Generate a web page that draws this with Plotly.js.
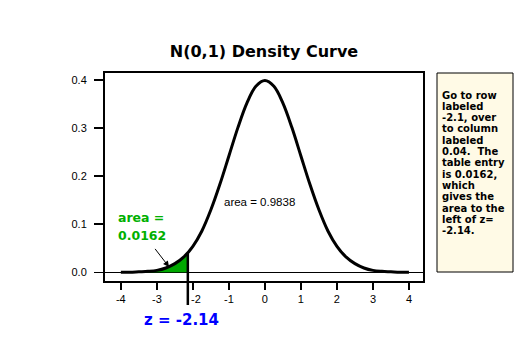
<!DOCTYPE html>
<html>
<head>
<meta charset="utf-8">
<script src="https://cdn.plot.ly/plotly-3.0.1.min.js"></script>
<style>html,body{margin:0;padding:0;background:#fff;}#chart{width:530px;height:354px;}</style>
</head>
<body>
<div id="chart"></div>
<script>
// Density curve
const xVals = [-4, -3.75, -3.5, -3.25, -3, -2.75, -2.5, -2.25, -2, -1.75, -1.5, -1.25, -1, -0.75, -0.5, -0.25, 0,
               0.25, 0.5, 0.75, 1, 1.25, 1.5, 1.75, 2, 2.25, 2.5, 2.75, 3, 3.25, 3.5, 3.75, 4];
const density = [0.000, 0.000, 0.001, 0.002, 0.004, 0.009, 0.018, 0.032, 0.054, 0.086, 0.130, 0.183, 0.242, 0.301, 0.352, 0.387, 0.399,
                 0.387, 0.352, 0.301, 0.242, 0.183, 0.130, 0.086, 0.054, 0.032, 0.018, 0.009, 0.004, 0.002, 0.001, 0.000, 0.000];
// Shaded left tail up to z
const shadeX = [-4, -3.75, -3.5, -3.25, -3, -2.75, -2.5, -2.25, -2.14];
const shadeY = [0.000, 0.000, 0.001, 0.002, 0.004, 0.009, 0.018, 0.032, 0.040];
const zValue = -2.14;
const zDensity = 0.040;
const leftArea = '0.0162';
const rightArea = '0.9838';
const xTickVals = [-4, -3, -2, -1, 0, 1, 2, 3, 4];
const xTickText = ['-4', '-3', '\u00a0\u00a0-2', '-1', '0', '1', '2', '3', '4'];
const yTickVals = [0, 0.1, 0.2, 0.3, 0.4];
const yTickText = ['0.0', '0.1', '0.2', '0.3', '0.4'];
const titleText = 'N(0,1) Density Curve';
const noteLines = ['Go to row', 'labeled', '-2.1, over', 'to column', 'labeled', '0.04.\u00a0 The', 'table entry',
                   'is 0.0162,', 'which', 'gives the', 'area to the', 'left of z=', '-2.14.'];

const W = 530, H = 354;
const M = {l: 105, r: 107, t: 73, b: 73};
const pw = W - M.l - M.r, ph = H - M.t - M.b;
const xRange = [-4.44, 4.39];
const yRange = [-0.0181, 0.4146];
const px = v => (v - M.l) / pw;          // pixel -> paper x
const py = v => (H - M.b - v) / ph;      // pixel -> paper y
const yPaper = v => (v - yRange[0]) / (yRange[1] - yRange[0]);

const bold = {family: 'DejaVu Sans', weight: 700};

const traces = [
  {x: shadeX, y: shadeY, type: 'scatter', mode: 'lines', line: {width: 0, shape: 'spline', color: '#00a800'},
   fill: 'tozeroy', fillcolor: '#00a800', hoverinfo: 'skip', showlegend: false},
  {x: xVals, y: density, type: 'scatter', mode: 'lines', line: {width: 3, color: '#000', shape: 'spline'},
   hoverinfo: 'skip', showlegend: false}
];

const annotations = [
  {xref: 'x', yref: 'y', x: -4.13, y: 0.115, text: 'area =', showarrow: false, xanchor: 'left', yanchor: 'middle',
   font: Object.assign({size: 12.5, color: '#00b000'}, bold)},
  {xref: 'x', yref: 'y', x: -4.13, y: 0.0776, text: leftArea, showarrow: false, xanchor: 'left', yanchor: 'middle',
   font: Object.assign({size: 12.5, color: '#00b000'}, bold)},
  {xref: 'x', yref: 'y', x: -0.16, y: 0.146, text: 'area = ' + rightArea, showarrow: false,
   xanchor: 'center', yanchor: 'middle',
   font: {family: 'Liberation Sans, Arial', size: 11.5, color: '#000'}},
  {xref: 'x', yref: 'paper', x: zValue, xshift: -6, y: py(320), text: 'z = ' + zValue, showarrow: false,
   xanchor: 'center', yanchor: 'middle',
   font: Object.assign({size: 15, color: '#0000ff'}, bold)},
  {xref: 'x', yref: 'y', x: -2.66, y: 0.011, text: ' ', showarrow: true, arrowhead: 2, arrowsize: 1.2, arrowwidth: 1,
   arrowcolor: '#000', ax: -17, ay: -22, standoff: 0}
];
noteLines.forEach((t, i) => {
  annotations.push({xref: 'paper', yref: 'paper', x: px(440), y: py(95 + i * 11.3), text: t, showarrow: false,
    xanchor: 'left', yanchor: 'middle', font: Object.assign({size: 10, color: '#000'}, bold)});
});

const shapes = [
  {type: 'rect', xref: 'paper', yref: 'paper', x0: px(437), x1: px(513), y0: py(272), y1: py(73),
   fillcolor: '#fffae6', line: {color: '#000', width: 1}, layer: 'above'},
  {type: 'line', xref: 'x', yref: 'paper', x0: zValue, x1: zValue, y0: py(305), y1: yPaper(zDensity),
   line: {color: '#000', width: 2.5}, layer: 'above'}
];

const layout = {
  width: W, height: H, margin: M, paper_bgcolor: '#fff', plot_bgcolor: '#fff',
  showlegend: false,
  title: {text: titleText, x: 0.5, xref: 'paper', y: 1 - 51 / H, yanchor: 'middle',
          font: Object.assign({size: 16, color: '#000'}, bold)},
  xaxis: {range: xRange, tickmode: 'array', tickvals: xTickVals, ticktext: xTickText, ticks: 'outside', ticklen: 7,
          tickwidth: 1.5, tickcolor: '#000', showgrid: false, zeroline: false, showline: true, mirror: true,
          linecolor: '#000', linewidth: 2, tickfont: {family: 'Liberation Sans, Arial', size: 11, color: '#000'}},
  yaxis: {range: yRange, tickmode: 'array', tickvals: yTickVals, ticktext: yTickText, ticks: 'outside', ticklen: 9,
          tickwidth: 1.5, tickcolor: '#000', showgrid: false, zeroline: true, zerolinecolor: '#000', zerolinewidth: 1,
          showline: true, mirror: true, linecolor: '#000', linewidth: 2, ticklabelstandoff: 5,
          tickfont: {family: 'Liberation Sans, Arial', size: 11, color: '#000'}},
  annotations: annotations,
  shapes: shapes
};

Plotly.newPlot('chart', traces, layout, {staticPlot: true, displayModeBar: false});
</script>
</body>
</html>
